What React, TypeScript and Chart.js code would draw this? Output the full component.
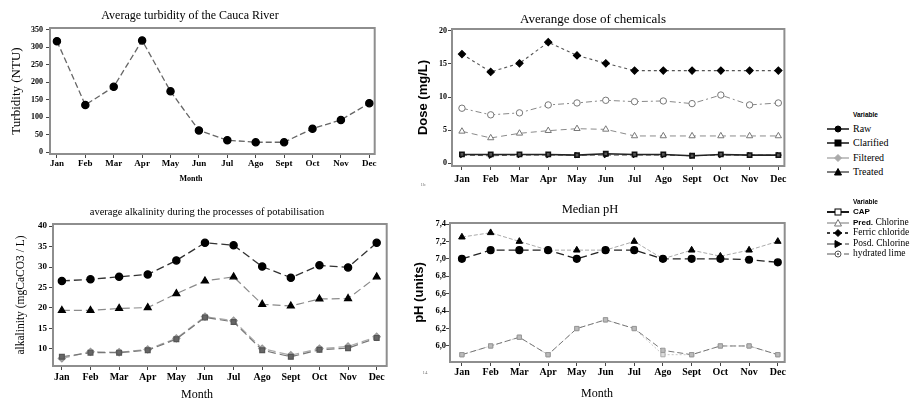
import React, { useEffect, useRef } from "react";
import { Chart, registerables } from "chart.js";
Chart.register(...registerables);

// ---------- data ----------
const months = ["Jan", "Feb", "Mar", "Apr", "May", "Jun", "Jul", "Ago", "Sept", "Oct", "Nov", "Dec"];

const turbidity = [318, 135, 187, 320, 174, 62, 34, 28, 28, 67, 92, 140];
const turbidityTicks = [0, 50, 100, 150, 200, 250, 300, 350];

const doseCAP = [1.3, 1.3, 1.3, 1.3, 1.2, 1.4, 1.3, 1.3, 1.1, 1.3, 1.2, 1.2];
const dosePredChlorine = [4.8, 3.8, 4.5, 4.9, 5.2, 5.1, 4.1, 4.1, 4.1, 4.1, 4.1, 4.1];
const doseFerric = [16.5, 13.8, 15.1, 18.3, 16.3, 15.1, 14.0, 14.0, 14.0, 14.0, 14.0, 14.0];
const dosePosdChlorine = [1.2, 1.1, 1.2, 1.2, 1.2, 1.2, 1.2, 1.2, 1.1, 1.2, 1.2, 1.2];
const doseLime = [8.3, 7.3, 7.6, 8.8, 9.1, 9.5, 9.3, 9.4, 9.0, 10.3, 8.8, 9.1];
const doseTicks = [0, 5, 10, 15, 20];

const alkRaw = [26.6, 27.0, 27.6, 28.2, 31.6, 35.9, 35.3, 30.1, 27.4, 30.4, 29.9, 35.9];
const alkClarified = [8.1, 9.1, 9.1, 9.7, 12.4, 17.7, 16.6, 9.7, 8.1, 9.8, 10.2, 12.7];
const alkFiltered = [7.7, 9.3, 9.2, 9.9, 12.6, 17.9, 16.9, 10.1, 8.5, 10.1, 10.6, 13.0];
const alkTreated = [19.4, 19.4, 19.9, 20.1, 23.5, 26.6, 27.6, 20.9, 20.5, 22.2, 22.3, 27.6];
const alkTicks = [10, 15, 20, 25, 30, 35, 40];

const phRaw = [7.0, 7.1, 7.1, 7.1, 7.0, 7.1, 7.1, 7.0, 7.0, 7.0, 6.99, 6.96];
const phClarified = [5.9, 6.0, 6.1, 5.9, 6.2, 6.3, 6.2, 5.95, 5.9, 6.0, 6.0, 5.9];
const phFiltered = [5.9, 6.0, 6.1, 5.9, 6.2, 6.3, 6.2, 5.9, 5.9, 6.0, 6.0, 5.9];
const phTreated = [7.25, 7.3, 7.2, 7.1, 7.1, 7.1, 7.2, 7.0, 7.1, 7.03, 7.1, 7.2];
const phTicks = [6.0, 6.2, 6.4, 6.6, 6.8, 7.0, 7.2, 7.4];

const legendProcess = ["Raw", "Clarified", "Filtered", "Treated"];
const legendChemicals = ["CAP", "Pred. Chlorine", "Ferric chloride", "Posd. Chlorine", "hydrated lime"];

// ---------- helpers ----------
const SERIF = "'Liberation Serif', 'DejaVu Serif', serif";
const SANS = "'Liberation Sans', Arial, sans-serif";

const pts = (arr: number[]) => arr.map((v, i) => ({ x: i, y: v }));

const framePlugin = {
  id: "frameBox",
  beforeDatasetsDraw(chart: any) {
    const { ctx, chartArea: a } = chart;
    ctx.save();
    ctx.strokeStyle = "#8e8e8e";
    ctx.lineWidth = 2;
    ctx.strokeRect(a.left, a.top, a.right - a.left, a.bottom - a.top);
    ctx.restore();
  },
};

type Cfg = {
  datasets: any[];
  padding: any;
  yWidth: number;
  xHeight: number;
  xMin: number;
  xMax: number;
  yMin: number;
  yMax: number;
  yTicks: number[];
  yFmt?: (v: number) => string;
  xFont: any;
  yFont: any;
  xPad: number;
  yPad: number;
  yTitle: { text: string; font: any; pad: number };
};

function build(c: Cfg): any {
  return {
    type: "line",
    data: { datasets: c.datasets },
    plugins: [framePlugin],
    options: {
      responsive: false,
      animation: false,
      events: [],
      layout: { padding: c.padding },
      plugins: { legend: { display: false }, title: { display: false }, tooltip: { enabled: false } },
      scales: {
        x: {
          type: "linear",
          min: c.xMin,
          max: c.xMax,
          afterBuildTicks: (s: any) => {
            s.ticks = months.map((_, i) => ({ value: i }));
          },
          afterFit: (s: any) => {
            s.height = c.xHeight;
          },
          ticks: {
            autoSkip: false,
            maxRotation: 0,
            color: "#000",
            font: c.xFont,
            padding: c.xPad,
            callback: (v: any) => months[v],
          },
          grid: { drawOnChartArea: false, drawTicks: true, tickLength: 4, color: "#444" },
          border: { display: false },
        },
        y: {
          type: "linear",
          min: c.yMin,
          max: c.yMax,
          afterBuildTicks: (s: any) => {
            s.ticks = c.yTicks.map((v) => ({ value: v }));
          },
          afterFit: (s: any) => {
            s.width = c.yWidth;
          },
          ticks: {
            color: "#000",
            font: c.yFont,
            padding: c.yPad,
            callback: (v: any) => (c.yFmt ? c.yFmt(v) : String(v)),
          },
          grid: { drawOnChartArea: false, drawTicks: true, tickLength: 4, color: "#444" },
          border: { display: false },
          title: {
            display: true,
            text: c.yTitle.text,
            color: "#000",
            font: c.yTitle.font,
            padding: { top: c.yTitle.pad, bottom: 0 },
          },
        },
      },
    },
  };
}

function Panel(props: { left: number; top: number; width: number; height: number; cfg: () => any }) {
  const ref = useRef<HTMLCanvasElement>(null);
  useEffect(() => {
    const chart = new Chart(ref.current as HTMLCanvasElement, props.cfg());
    return () => chart.destroy();
  }, []);
  return (
    <canvas
      ref={ref}
      width={props.width}
      height={props.height}
      style={{ position: "absolute", left: props.left, top: props.top, width: props.width, height: props.height }}
    />
  );
}

const ds = (label: string, data: number[], o: any) => ({
  label,
  data: pts(data),
  showLine: true,
  fill: false,
  tension: 0,
  ...o,
});

// ---------- chart configs ----------
const turbidityCfg = () =>
  build({
    datasets: [
      ds("Raw", turbidity, {
        borderColor: "#666",
        borderWidth: 1.3,
        borderDash: [6, 3],
        pointRadius: 3.6,
        pointBackgroundColor: "#000",
        pointBorderColor: "#000",
      }),
    ],
    padding: { left: 0, right: 2, top: 28, bottom: 0 },
    yWidth: 50,
    xHeight: 36,
    xMin: -0.244,
    xMax: 11.19,
    yMin: -5.7,
    yMax: 355.7,
    yTicks: turbidityTicks,
    xFont: { family: SERIF, size: 9, weight: "bold" },
    yFont: { family: SERIF, size: 8, weight: "bold" },
    xPad: 0,
    yPad: 3,
    yTitle: { text: "Turbidity (NTU)", font: { family: SERIF, size: 13 }, pad: 9 },
  });

const doseCfg = () =>
  build({
    datasets: [
      ds("CAP", doseCAP, {
        borderColor: "#222",
        borderWidth: 1.6,
        pointStyle: "rect",
        pointRadius: 3,
        pointBackgroundColor: "#555",
        pointBorderColor: "#111",
      }),
      ds("Posd. Chlorine", dosePosdChlorine, {
        borderColor: "#555",
        borderWidth: 1,
        borderDash: [5, 3],
        pointStyle: "triangle",
        pointRotation: 90,
        pointRadius: 3,
        pointBackgroundColor: "#000",
        pointBorderColor: "#000",
      }),
      ds("Pred. Chlorine", dosePredChlorine, {
        borderColor: "#8a8a8a",
        borderWidth: 1,
        borderDash: [6, 4],
        pointStyle: "triangle",
        pointRadius: 3.6,
        pointBackgroundColor: "#fff",
        pointBorderColor: "#777",
      }),
      ds("Ferric chloride", doseFerric, {
        borderColor: "#555",
        borderWidth: 1.1,
        borderDash: [3, 3],
        pointStyle: "rectRot",
        pointRadius: 3.6,
        pointBackgroundColor: "#000",
        pointBorderColor: "#000",
      }),
      ds("hydrated lime", doseLime, {
        borderColor: "#888",
        borderWidth: 1,
        borderDash: [6, 3, 2, 3],
        pointStyle: "circle",
        pointRadius: 3.2,
        pointBackgroundColor: "#fff",
        pointBorderColor: "#777",
      }),
    ],
    padding: { left: 0, right: 4, top: 29, bottom: 0 },
    yWidth: 52,
    xHeight: 26,
    xMin: -0.346,
    xMax: 11.21,
    yMin: -0.45,
    yMax: 20.3,
    yTicks: doseTicks,
    xFont: { family: SERIF, size: 10, weight: "bold" },
    yFont: { family: SERIF, size: 8, weight: "bold" },
    xPad: 3,
    yPad: 1,
    yTitle: { text: "Dose (mg/L)", font: { family: SANS, size: 13, weight: "bold" }, pad: 16 },
  });

const alkCfg = () =>
  build({
    datasets: [
      ds("Raw", alkRaw, {
        borderColor: "#333",
        borderWidth: 1.3,
        borderDash: [8, 4],
        pointRadius: 3.6,
        pointBackgroundColor: "#000",
        pointBorderColor: "#000",
      }),
      ds("Treated", alkTreated, {
        borderColor: "#8a8a8a",
        borderWidth: 1.2,
        borderDash: [8, 4],
        pointStyle: "triangle",
        pointRadius: 4,
        pointBackgroundColor: "#000",
        pointBorderColor: "#000",
      }),
      ds("Clarified", alkClarified, {
        borderColor: "#777",
        borderWidth: 1.2,
        borderDash: [8, 4],
        pointStyle: "rect",
        pointRadius: 3.4,
        pointBackgroundColor: "#666",
        pointBorderColor: "#555",
      }),
      ds("Filtered", alkFiltered, {
        borderColor: "#aaa",
        borderWidth: 1.2,
        borderDash: [8, 4],
        pointStyle: "rectRot",
        pointRadius: 3.6,
        pointBackgroundColor: "#aaa",
        pointBorderColor: "#999",
      }),
    ],
    padding: { left: 0, right: 2, top: 29, bottom: 0 },
    yWidth: 53,
    xHeight: 33,
    xMin: -0.31,
    xMax: 11.35,
    yMin: 5.85,
    yMax: 40.49,
    yTicks: alkTicks,
    xFont: { family: SERIF, size: 10, weight: "bold" },
    yFont: { family: SERIF, size: 9, weight: "bold" },
    xPad: 1,
    yPad: 2,
    yTitle: { text: "alkalinity (mgCaCO3 / L)", font: { family: SERIF, size: 11.5 }, pad: 14 },
  });

const phCfg = () =>
  build({
    datasets: [
      ds("Raw", phRaw, {
        borderColor: "#222",
        borderWidth: 1.3,
        borderDash: [8, 4],
        pointRadius: 3.4,
        pointBackgroundColor: "#000",
        pointBorderColor: "#000",
      }),
      ds("Treated", phTreated, {
        borderColor: "#aaa",
        borderWidth: 1,
        borderDash: [4, 2],
        pointStyle: "triangle",
        pointRadius: 3.8,
        pointBackgroundColor: "#000",
        pointBorderColor: "#000",
      }),
      ds("Clarified", phClarified, {
        borderColor: "#777",
        borderWidth: 1,
        borderDash: [6, 3],
        pointStyle: "rect",
        pointRadius: 3,
        pointBackgroundColor: "#bbb",
        pointBorderColor: "#999",
      }),
      ds("Filtered", phFiltered, {
        borderColor: "#c8c8c8",
        borderWidth: 1,
        borderDash: [2, 2],
        pointStyle: "rect",
        pointRadius: 3,
        pointBackgroundColor: "#ddd",
        pointBorderColor: "#aaa",
      }),
    ],
    padding: { left: 0, right: 3, top: 28, bottom: 0 },
    yWidth: 50,
    xHeight: 37,
    xMin: -0.415,
    xMax: 11.24,
    yMin: 5.816,
    yMax: 7.4115,
    yTicks: phTicks,
    yFmt: (v: number) => v.toFixed(1).replace(".", ","),
    xFont: { family: SERIF, size: 10, weight: "bold" },
    yFont: { family: SERIF, size: 8.5, weight: "bold" },
    xPad: 0,
    yPad: 0,
    yTitle: { text: "pH (units)", font: { family: SANS, size: 13, weight: "bold" }, pad: 12 },
  });

// ---------- legend markers ----------
type Mk = { line: string; dash?: string; lw?: number; shape: string; fill: string; stroke: string };

function Marker({ m }: { m: Mk }) {
  const cx = 11, cy = 5;
  let shape: any = null;
  if (m.shape === "circle") shape = <circle cx={cx} cy={cy} r={3} fill={m.fill} stroke={m.stroke} strokeWidth={1} />;
  if (m.shape === "rect") shape = <rect x={cx - 3} y={cy - 3} width={6} height={6} fill={m.fill} stroke={m.stroke} strokeWidth={1} />;
  if (m.shape === "diamond")
    shape = <polygon points={`${cx},${cy - 3.5} ${cx + 3.5},${cy} ${cx},${cy + 3.5} ${cx - 3.5},${cy}`} fill={m.fill} stroke={m.stroke} strokeWidth={1} />;
  if (m.shape === "triangle")
    shape = <polygon points={`${cx},${cy - 3.5} ${cx + 3.5},${cy + 3} ${cx - 3.5},${cy + 3}`} fill={m.fill} stroke={m.stroke} strokeWidth={1} />;
  if (m.shape === "right")
    shape = <polygon points={`${cx - 3},${cy - 3.5} ${cx + 3.5},${cy} ${cx - 3},${cy + 3.5}`} fill={m.fill} stroke={m.stroke} strokeWidth={1} />;
  if (m.shape === "dotcircle")
    shape = (
      <g>
        <circle cx={cx} cy={cy} r={3} fill="#fff" stroke={m.stroke} strokeWidth={1} />
        <circle cx={cx} cy={cy} r={1} fill={m.stroke} />
      </g>
    );
  return (
    <svg width={23} height={10} style={{ position: "absolute", left: 0, top: 0 }}>
      <line x1={0} y1={cy} x2={22} y2={cy} stroke={m.line} strokeWidth={m.lw ?? 1.4} strokeDasharray={m.dash} />
      {shape}
    </svg>
  );
}

const processMarkers: Mk[] = [
  { line: "#000", shape: "circle", fill: "#000", stroke: "#000" },
  { line: "#000", shape: "rect", fill: "#000", stroke: "#000" },
  { line: "#aaa", shape: "diamond", fill: "#aaa", stroke: "#aaa" },
  { line: "#000", lw: 1, shape: "triangle", fill: "#000", stroke: "#000" },
];
const chemMarkers: Mk[] = [
  { line: "#000", lw: 1.8, shape: "rect", fill: "#fff", stroke: "#000" },
  { line: "#777", lw: 1, shape: "triangle", fill: "#fff", stroke: "#777" },
  { line: "#000", lw: 1.4, dash: "3 3", shape: "diamond", fill: "#000", stroke: "#000" },
  { line: "#333", lw: 1, dash: "10 3 2 3", shape: "right", fill: "#000", stroke: "#000" },
  { line: "#555", lw: 1, dash: "9 3 2 3", shape: "dotcircle", fill: "#fff", stroke: "#555" },
];

function Legend(props: { top: number; gap: number; items: string[]; markers: Mk[]; size: number; headerTop: number }) {
  return (
    <>
      <div
        style={{
          position: "absolute",
          left: 853,
          top: props.headerTop,
          transform: "translateY(-50%)",
          fontFamily: SANS,
          fontWeight: "bold",
          fontSize: 6.5,
          whiteSpace: "nowrap",
        }}
      >
        Variable
      </div>
      {props.items.map((t, i) => (
        <div key={t} style={{ position: "absolute", left: 827, top: props.top + i * props.gap - 5, height: 10, width: 120 }}>
          <Marker m={props.markers[i]} />
          <div
            style={{
              position: "absolute",
              left: 26,
              top: 5,
              transform: "translateY(-50%)",
              fontFamily: SERIF,
              fontSize: props.size,
              whiteSpace: "nowrap",
              lineHeight: 1,
            }}
          >
            {t.startsWith("Pred.") ? (
              <>
                <span style={{ fontFamily: SANS, fontWeight: "bold", fontSize: props.size - 1.5 }}>Pred.</span>
                {t.slice(5)}
              </>
            ) : t === "CAP" ? (
              <span style={{ fontFamily: SANS, fontWeight: "bold", fontSize: props.size - 1.5 }}>CAP</span>
            ) : (
              t
            )}
          </div>
        </div>
      ))}
    </>
  );
}

function Txt(props: { x: number; y: number; size: number; family?: string; bold?: boolean; color?: string; children: any }) {
  return (
    <div
      style={{
        position: "absolute",
        left: props.x,
        top: props.y,
        transform: "translate(-50%, -50%)",
        fontFamily: props.family ?? SERIF,
        fontWeight: props.bold ? "bold" : "normal",
        fontSize: props.size,
        color: props.color ?? "#000",
        whiteSpace: "nowrap",
        lineHeight: 1,
      }}
    >
      {props.children}
    </div>
  );
}

export default function App() {
  return (
    <div
      style={{
        position: "fixed",
        left: 0,
        top: 0,
        width: 910,
        height: 399,
        background: "#fff",
        overflow: "hidden",
      }}
    >
      <Panel left={0} top={0} width={380} height={190} cfg={turbidityCfg} />
      <Panel left={400} top={0} width={390} height={192} cfg={doseCfg} />
      <Panel left={0} top={195} width={392} height={204} cfg={alkCfg} />
      <Panel left={400} top={195} width={390} height={204} cfg={phCfg} />

      <Txt x={190} y={15} size={12}>Average turbidity of the Cauca River</Txt>
      <Txt x={593} y={18} size={13}>Averange dose of chemicals</Txt>
      <Txt x={207} y={212} size={10.5}>average alkalinity during the processes of potabilisation</Txt>
      <Txt x={590} y={209} size={12.5}>Median pH</Txt>

      <Txt x={191} y={179} size={8} bold>Month</Txt>
      <Txt x={197} y={394} size={12}>Month</Txt>
      <Txt x={597} y={393} size={12}>Month</Txt>

      <Txt x={423} y={184} size={5} color="#777">1b</Txt>
      <Txt x={425} y={372} size={5} color="#777">14</Txt>

      <Legend headerTop={114} top={129} gap={14.3} items={legendProcess} markers={processMarkers} size={10} />
      <Legend headerTop={201} top={212} gap={10.5} items={legendChemicals} markers={chemMarkers} size={9.5} />
    </div>
  );
}
